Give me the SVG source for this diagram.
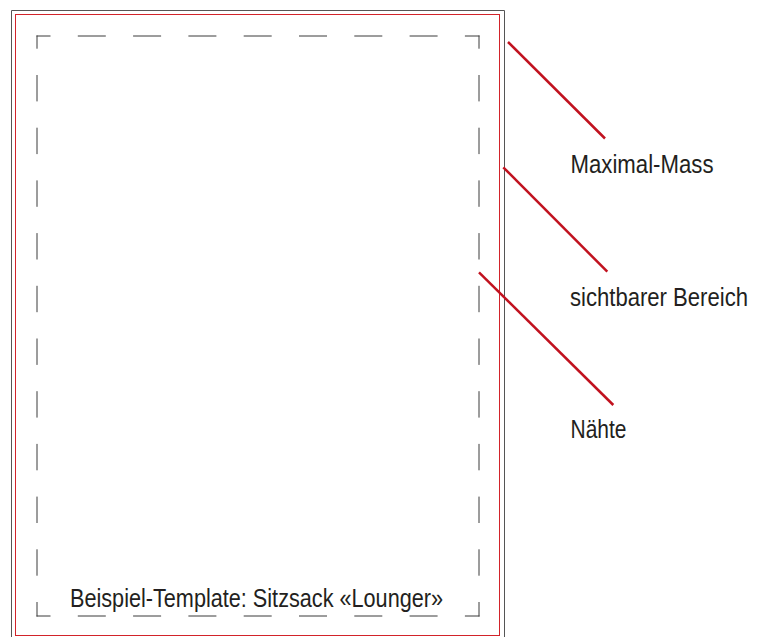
<svg xmlns="http://www.w3.org/2000/svg" width="765" height="637" viewBox="0 0 765 637">
<style>
.lbl{font-family:"Liberation Sans Narrow","Liberation Sans",Arial,sans-serif;font-stretch:condensed;font-size:25px;fill:#231f20}
.dash{fill:none;stroke:#3a3a3a;stroke-width:1}
.h{stroke-dasharray:28 27.3;stroke-dashoffset:14}
.v{stroke-dasharray:26.4 26.3;stroke-dashoffset:13.2}
.lead{stroke:#c1121f;stroke-width:2.5;fill:none}
</style>
<rect width="765" height="637" fill="#ffffff"/>
<g id="maximal-mass">
<path d="M11.5,650 V10.5 H504.5 V650" fill="none" stroke="#555" stroke-width="1"/>
</g>
<g id="sichtbarer-bereich">
<rect x="15.5" y="14.5" width="484" height="621" fill="none" stroke="#d2232a" stroke-width="1"/>
</g>
<g id="naehte">
<line class="dash h" x1="36.5" y1="36" x2="479.5" y2="36"/>
<line class="dash h" x1="36.5" y1="616" x2="479.5" y2="616"/>
<line class="dash v" x1="37" y1="35.5" x2="37" y2="616.5"/>
<line class="dash v" x1="479" y1="35.5" x2="479" y2="616.5"/>
</g>
<g id="template-label">
<text class="lbl" x="70" y="607" textLength="373" lengthAdjust="spacingAndGlyphs">Beispiel-Template: Sitzsack «Lounger»</text>
</g>
<g id="labels">
<text id="label-maximal" class="lbl" x="570.5" y="173" textLength="143" lengthAdjust="spacingAndGlyphs">Maximal-Mass</text>
<text id="label-sichtbar" class="lbl" x="748" y="306" text-anchor="end" textLength="178" lengthAdjust="spacingAndGlyphs">sichtbarer Bereich</text>
<text id="label-naehte" class="lbl" x="570.5" y="438" textLength="56" lengthAdjust="spacingAndGlyphs">Nähte</text>
</g>
<g id="connectors">
<line class="lead" x1="508" y1="42" x2="605" y2="138.5"/>
<line class="lead" x1="503.3" y1="167.3" x2="607.3" y2="271.7"/>
<line class="lead" x1="479" y1="272.3" x2="613.3" y2="405"/>
</g>
</svg>
